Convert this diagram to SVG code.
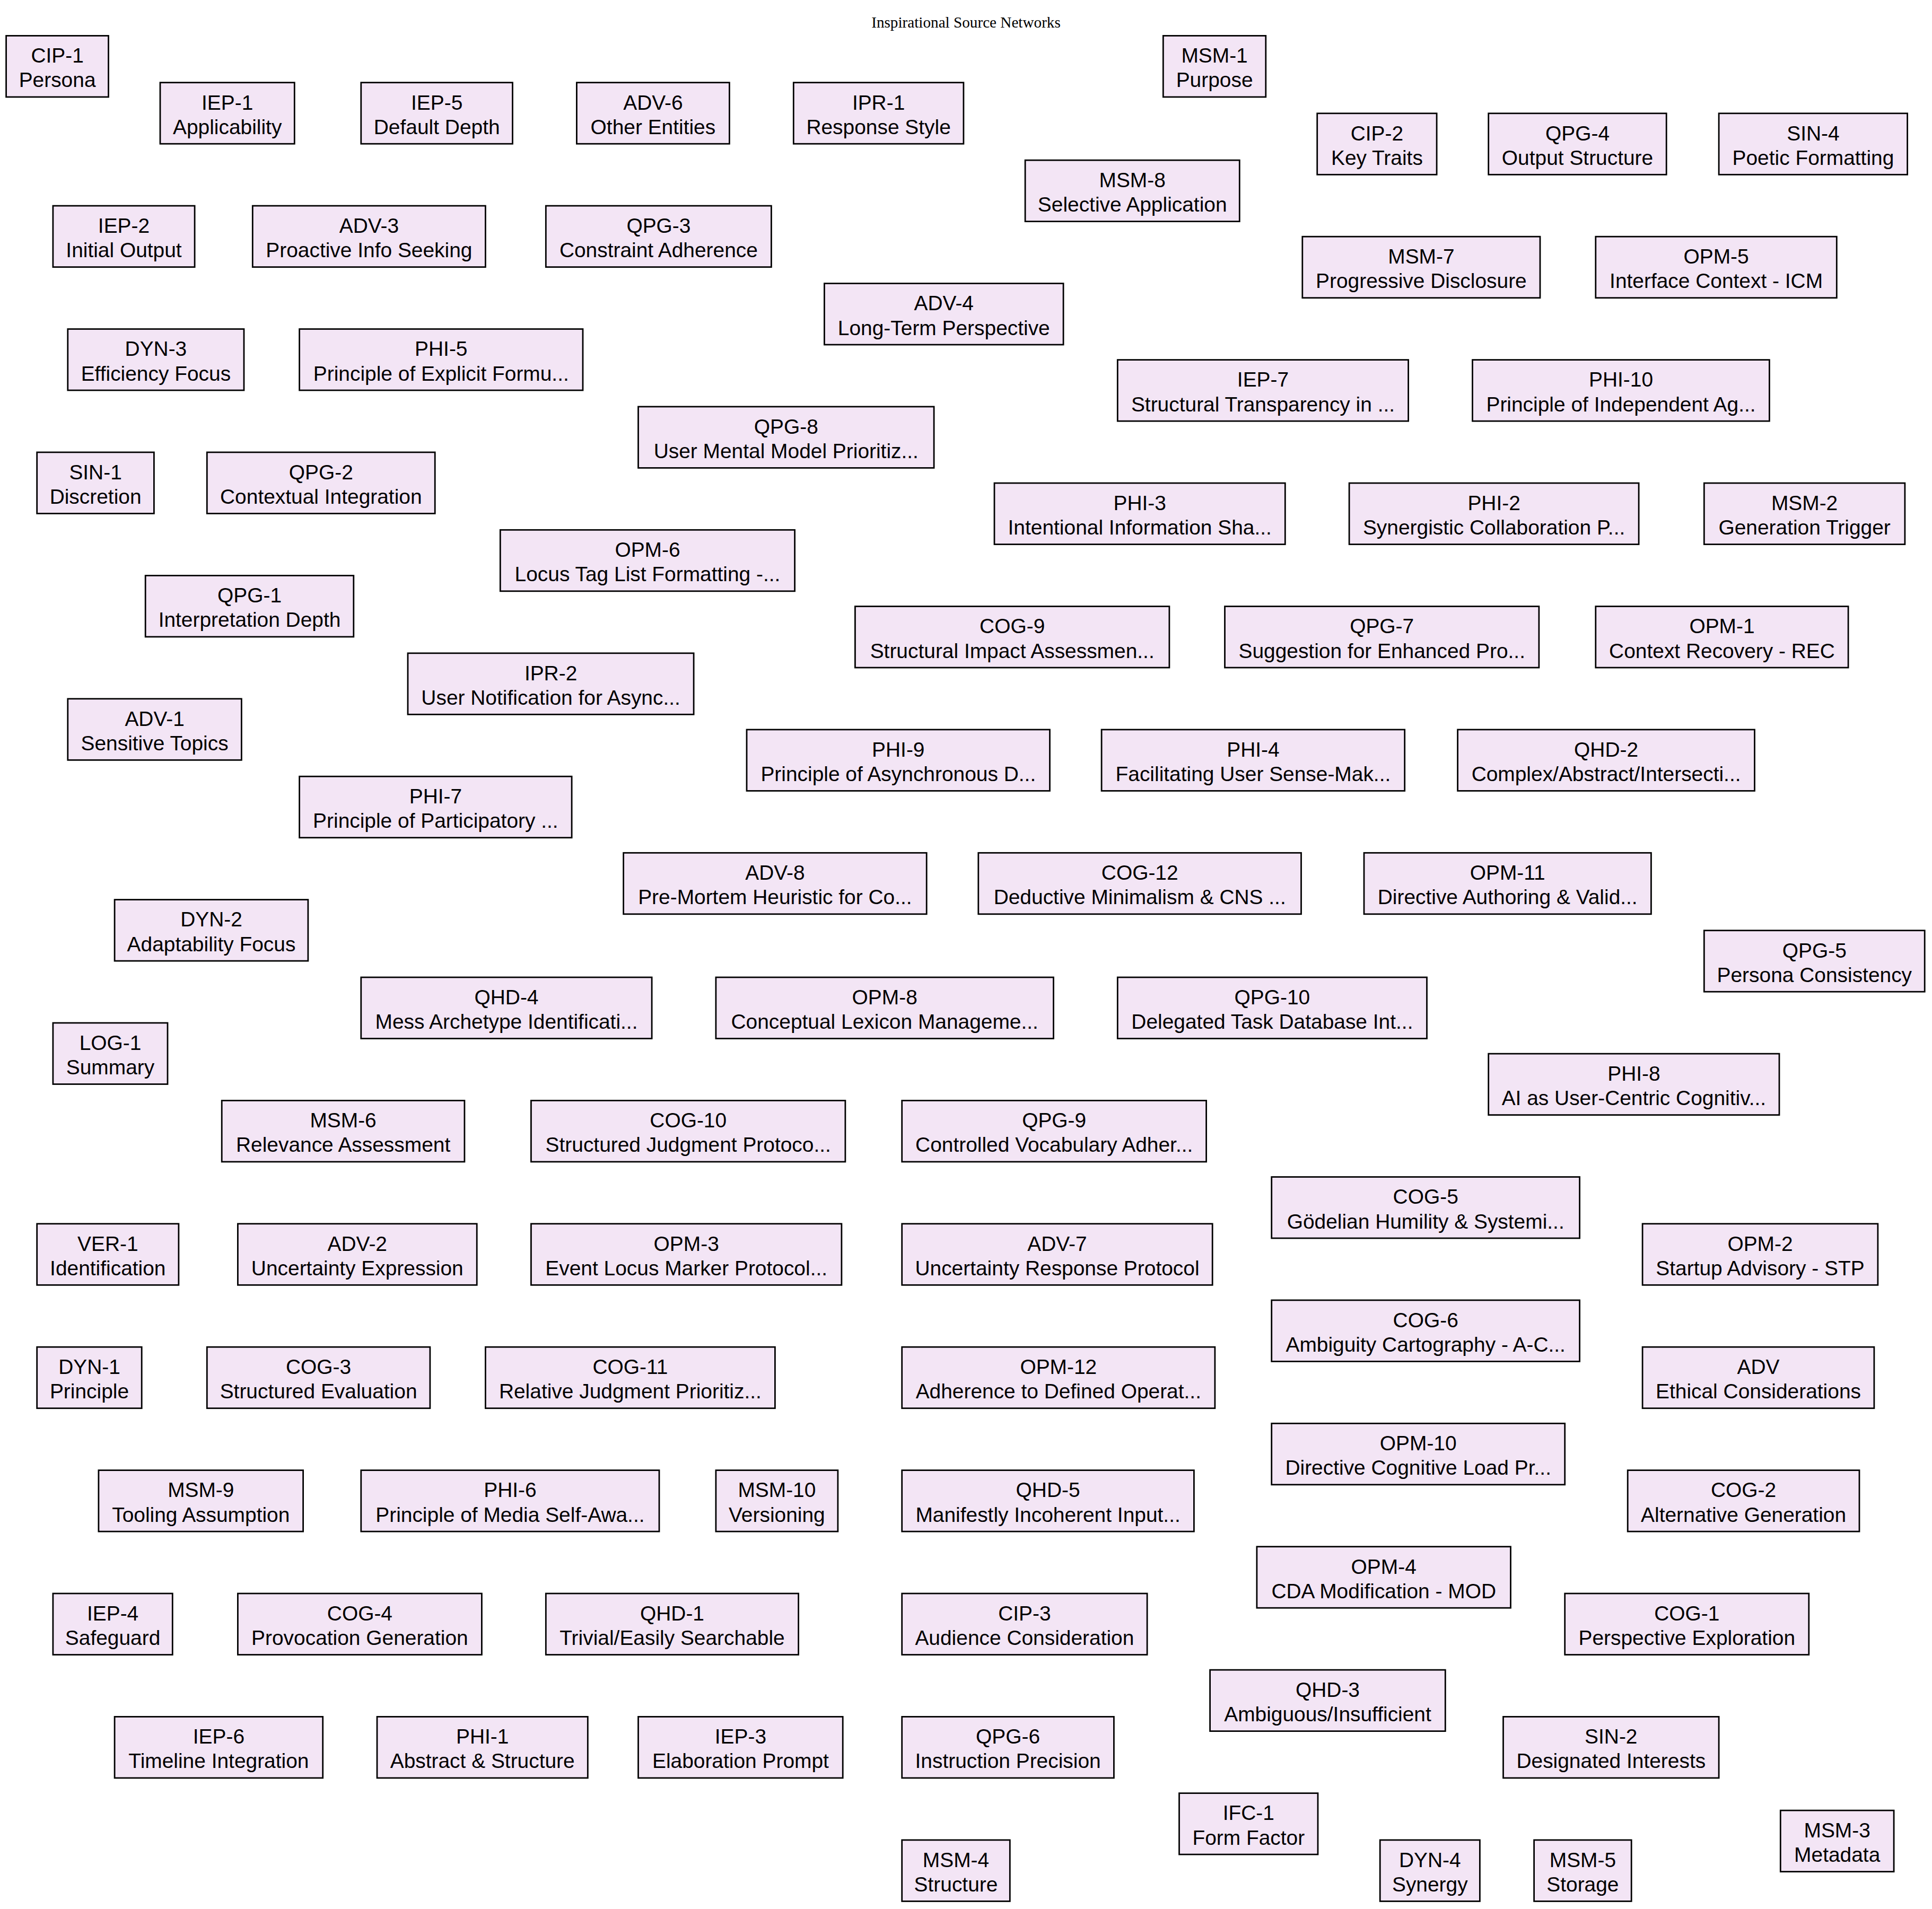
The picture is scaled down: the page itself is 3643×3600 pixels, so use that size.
<svg xmlns="http://www.w3.org/2000/svg" width="3643" height="3600" viewBox="0 0 3643 3600">
<style>
  .bg { fill: #ffffff; }
  .title { font-family: "Liberation Serif", "Times New Roman", serif; font-size: 29.2px; text-anchor: middle; fill: #000; }
  .node rect { fill: #f3e5f5; stroke: #000; stroke-width: 2.78; }
  .node text { font-family: "Liberation Sans", Arial, sans-serif; font-size: 38.9px; text-anchor: middle; fill: #000; }
</style>
<rect class="bg" x="0" y="0" width="3643" height="3600"/>
<text class="title" x="1821.5" y="51.5">Inspirational Source Networks</text>

<!-- no links between the sources -->
<g id="connectors"></g>

<g id="nodes">
<g id="node-CIP-1" class="node"><rect x="11.6" y="67.4" width="192.9" height="115.5"/><text x="108.1" y="118.2">CIP-1</text><text x="108.1" y="164.4">Persona</text></g>
<g id="node-IEP-1" class="node"><rect x="302.0" y="155.7" width="253.3" height="115.5"/><text x="428.7" y="206.5">IEP-1</text><text x="428.7" y="252.7">Applicability</text></g>
<g id="node-IEP-5" class="node"><rect x="680.8" y="155.7" width="285.7" height="115.5"/><text x="823.7" y="206.5">IEP-5</text><text x="823.7" y="252.7">Default Depth</text></g>
<g id="node-ADV-6" class="node"><rect x="1087.4" y="155.7" width="288.0" height="115.5"/><text x="1231.4" y="206.5">ADV-6</text><text x="1231.4" y="252.7">Other Entities</text></g>
<g id="node-IPR-1" class="node"><rect x="1496.3" y="155.7" width="320.6" height="115.5"/><text x="1656.6" y="206.5">IPR-1</text><text x="1656.6" y="252.7">Response Style</text></g>
<g id="node-MSM-1" class="node"><rect x="2193.3" y="67.4" width="193.5" height="115.5"/><text x="2290.1" y="118.2">MSM-1</text><text x="2290.1" y="164.4">Purpose</text></g>
<g id="node-CIP-2" class="node"><rect x="2483.7" y="213.8" width="225.4" height="115.5"/><text x="2596.4" y="264.6">CIP-2</text><text x="2596.4" y="310.8">Key Traits</text></g>
<g id="node-QPG-4" class="node"><rect x="2806.7" y="213.8" width="335.5" height="115.5"/><text x="2974.5" y="264.6">QPG-4</text><text x="2974.5" y="310.8">Output Structure</text></g>
<g id="node-SIN-4" class="node"><rect x="3241.1" y="213.8" width="355.5" height="115.5"/><text x="3418.9" y="264.6">SIN-4</text><text x="3418.9" y="310.8">Poetic Formatting</text></g>
<g id="node-MSM-8" class="node"><rect x="1933.1" y="302.1" width="404.2" height="115.5"/><text x="2135.2" y="352.9">MSM-8</text><text x="2135.2" y="399.1">Selective Application</text></g>
<g id="node-IEP-2" class="node"><rect x="99.9" y="388.1" width="267.2" height="115.5"/><text x="233.5" y="438.9">IEP-2</text><text x="233.5" y="485.1">Initial Output</text></g>
<g id="node-ADV-3" class="node"><rect x="476.3" y="388.1" width="439.1" height="115.5"/><text x="695.9" y="438.9">ADV-3</text><text x="695.9" y="485.1">Proactive Info Seeking</text></g>
<g id="node-QPG-3" class="node"><rect x="1029.3" y="388.1" width="425.1" height="115.5"/><text x="1241.9" y="438.9">QPG-3</text><text x="1241.9" y="485.1">Constraint Adherence</text></g>
<g id="node-MSM-7" class="node"><rect x="2455.8" y="446.2" width="448.2" height="115.5"/><text x="2679.9" y="497.0">MSM-7</text><text x="2679.9" y="543.2">Progressive Disclosure</text></g>
<g id="node-OPM-5" class="node"><rect x="3008.8" y="446.2" width="454.5" height="115.5"/><text x="3236.1" y="497.0">OPM-5</text><text x="3236.1" y="543.2">Interface Context - ICM</text></g>
<g id="node-ADV-4" class="node"><rect x="1554.4" y="534.5" width="450.7" height="115.5"/><text x="1779.8" y="585.3">ADV-4</text><text x="1779.8" y="631.5">Long-Term Perspective</text></g>
<g id="node-DYN-3" class="node"><rect x="127.8" y="620.5" width="332.2" height="115.5"/><text x="293.9" y="671.3">DYN-3</text><text x="293.9" y="717.5">Efficiency Focus</text></g>
<g id="node-PHI-5" class="node"><rect x="564.6" y="620.5" width="534.4" height="115.5"/><text x="831.8" y="671.3">PHI-5</text><text x="831.8" y="717.5">Principle of Explicit Formu...</text></g>
<g id="node-IEP-7" class="node"><rect x="2107.3" y="678.6" width="548.3" height="115.5"/><text x="2381.5" y="729.4">IEP-7</text><text x="2381.5" y="775.6">Structural Transparency in ...</text></g>
<g id="node-PHI-10" class="node"><rect x="2776.5" y="678.6" width="559.9" height="115.5"/><text x="3056.5" y="729.4">PHI-10</text><text x="3056.5" y="775.6">Principle of Independent Ag...</text></g>
<g id="node-QPG-8" class="node"><rect x="1203.5" y="766.9" width="557.6" height="115.5"/><text x="1482.3" y="817.7">QPG-8</text><text x="1482.3" y="863.9">User Mental Model Prioritiz...</text></g>
<g id="node-SIN-1" class="node"><rect x="69.7" y="852.9" width="220.7" height="115.5"/><text x="180.1" y="903.7">SIN-1</text><text x="180.1" y="949.9">Discretion</text></g>
<g id="node-QPG-2" class="node"><rect x="390.3" y="852.9" width="429.9" height="115.5"/><text x="605.3" y="903.7">QPG-2</text><text x="605.3" y="949.9">Contextual Integration</text></g>
<g id="node-PHI-3" class="node"><rect x="1875.0" y="911.0" width="548.3" height="115.5"/><text x="2149.2" y="961.8">PHI-3</text><text x="2149.2" y="1008.0">Intentional Information Sha...</text></g>
<g id="node-PHI-2" class="node"><rect x="2544.1" y="911.0" width="546.0" height="115.5"/><text x="2817.1" y="961.8">PHI-2</text><text x="2817.1" y="1008.0">Synergistic Collaboration P...</text></g>
<g id="node-MSM-2" class="node"><rect x="3213.3" y="911.0" width="378.6" height="115.5"/><text x="3402.6" y="961.8">MSM-2</text><text x="3402.6" y="1008.0">Generation Trigger</text></g>
<g id="node-OPM-6" class="node"><rect x="943.3" y="999.3" width="555.3" height="115.5"/><text x="1221.0" y="1050.1">OPM-6</text><text x="1221.0" y="1096.3">Locus Tag List Formatting -...</text></g>
<g id="node-QPG-1" class="node"><rect x="274.2" y="1085.4" width="392.6" height="115.5"/><text x="470.5" y="1136.2">QPG-1</text><text x="470.5" y="1182.4">Interpretation Depth</text></g>
<g id="node-COG-9" class="node"><rect x="1612.4" y="1143.5" width="592.5" height="115.5"/><text x="1908.7" y="1194.3">COG-9</text><text x="1908.7" y="1240.5">Structural Impact Assessmen...</text></g>
<g id="node-QPG-7" class="node"><rect x="2309.5" y="1143.5" width="592.4" height="115.5"/><text x="2605.7" y="1194.3">QPG-7</text><text x="2605.7" y="1240.5">Suggestion for Enhanced Pro...</text></g>
<g id="node-OPM-1" class="node"><rect x="3008.8" y="1143.5" width="476.3" height="115.5"/><text x="3247.0" y="1194.3">OPM-1</text><text x="3247.0" y="1240.5">Context Recovery - REC</text></g>
<g id="node-IPR-2" class="node"><rect x="769.0" y="1231.8" width="539.1" height="115.5"/><text x="1038.6" y="1282.6">IPR-2</text><text x="1038.6" y="1328.8">User Notification for Async...</text></g>
<g id="node-ADV-1" class="node"><rect x="127.8" y="1317.8" width="327.6" height="115.5"/><text x="291.6" y="1368.6">ADV-1</text><text x="291.6" y="1414.8">Sensitive Topics</text></g>
<g id="node-PHI-9" class="node"><rect x="1408.0" y="1375.9" width="571.5" height="115.5"/><text x="1693.8" y="1426.7">PHI-9</text><text x="1693.8" y="1472.9">Principle of Asynchronous D...</text></g>
<g id="node-PHI-4" class="node"><rect x="2077.1" y="1375.9" width="571.6" height="115.5"/><text x="2362.9" y="1426.7">PHI-4</text><text x="2362.9" y="1472.9">Facilitating User Sense-Mak...</text></g>
<g id="node-QHD-2" class="node"><rect x="2748.6" y="1375.9" width="559.9" height="115.5"/><text x="3028.6" y="1426.7">QHD-2</text><text x="3028.6" y="1472.9">Complex/Abstract/Intersecti...</text></g>
<g id="node-PHI-7" class="node"><rect x="564.6" y="1464.2" width="513.5" height="115.5"/><text x="821.4" y="1515.0">PHI-7</text><text x="821.4" y="1561.2">Principle of Participatory ...</text></g>
<g id="node-ADV-8" class="node"><rect x="1175.6" y="1608.3" width="571.6" height="115.5"/><text x="1461.4" y="1659.1">ADV-8</text><text x="1461.4" y="1705.3">Pre-Mortem Heuristic for Co...</text></g>
<g id="node-COG-12" class="node"><rect x="1844.8" y="1608.3" width="608.7" height="115.5"/><text x="2149.2" y="1659.1">COG-12</text><text x="2149.2" y="1705.3">Deductive Minimalism &amp; CNS ...</text></g>
<g id="node-OPM-11" class="node"><rect x="2572.0" y="1608.3" width="541.4" height="115.5"/><text x="2842.7" y="1659.1">OPM-11</text><text x="2842.7" y="1705.3">Directive Authoring &amp; Valid...</text></g>
<g id="node-DYN-2" class="node"><rect x="216.1" y="1696.6" width="364.8" height="115.5"/><text x="398.5" y="1747.4">DYN-2</text><text x="398.5" y="1793.6">Adaptability Focus</text></g>
<g id="node-QPG-5" class="node"><rect x="3213.3" y="1754.7" width="415.9" height="115.5"/><text x="3421.3" y="1805.5">QPG-5</text><text x="3421.3" y="1851.7">Persona Consistency</text></g>
<g id="node-QHD-4" class="node"><rect x="680.8" y="1843.0" width="548.3" height="115.5"/><text x="955.0" y="1893.8">QHD-4</text><text x="955.0" y="1940.0">Mess Archetype Identificati...</text></g>
<g id="node-OPM-8" class="node"><rect x="1349.9" y="1843.0" width="636.6" height="115.5"/><text x="1668.2" y="1893.8">OPM-8</text><text x="1668.2" y="1940.0">Conceptual Lexicon Manageme...</text></g>
<g id="node-QPG-10" class="node"><rect x="2107.3" y="1843.0" width="583.2" height="115.5"/><text x="2398.9" y="1893.8">QPG-10</text><text x="2398.9" y="1940.0">Delegated Task Database Int...</text></g>
<g id="node-LOG-1" class="node"><rect x="99.9" y="1929.0" width="216.1" height="115.5"/><text x="208.0" y="1979.8">LOG-1</text><text x="208.0" y="2026.0">Summary</text></g>
<g id="node-PHI-8" class="node"><rect x="2806.7" y="1987.1" width="548.3" height="115.5"/><text x="3080.9" y="2037.9">PHI-8</text><text x="3080.9" y="2084.1">AI as User-Centric Cognitiv...</text></g>
<g id="node-MSM-6" class="node"><rect x="418.2" y="2075.4" width="457.7" height="115.5"/><text x="647.1" y="2126.2">MSM-6</text><text x="647.1" y="2172.4">Relevance Assessment</text></g>
<g id="node-COG-10" class="node"><rect x="1001.4" y="2075.4" width="592.5" height="115.5"/><text x="1297.7" y="2126.2">COG-10</text><text x="1297.7" y="2172.4">Structured Judgment Protoco...</text></g>
<g id="node-QPG-9" class="node"><rect x="1700.7" y="2075.4" width="573.9" height="115.5"/><text x="1987.7" y="2126.2">QPG-9</text><text x="1987.7" y="2172.4">Controlled Vocabulary Adher...</text></g>
<g id="node-COG-5" class="node"><rect x="2397.7" y="2219.5" width="580.9" height="115.5"/><text x="2688.2" y="2270.3">COG-5</text><text x="2688.2" y="2316.5">Gödelian Humility &amp; Systemi...</text></g>
<g id="node-VER-1" class="node"><rect x="69.7" y="2307.8" width="267.2" height="115.5"/><text x="203.3" y="2358.6">VER-1</text><text x="203.3" y="2404.8">Identification</text></g>
<g id="node-ADV-2" class="node"><rect x="448.4" y="2307.8" width="450.8" height="115.5"/><text x="673.8" y="2358.6">ADV-2</text><text x="673.8" y="2404.8">Uncertainty Expression</text></g>
<g id="node-OPM-3" class="node"><rect x="1001.4" y="2307.8" width="585.5" height="115.5"/><text x="1294.2" y="2358.6">OPM-3</text><text x="1294.2" y="2404.8">Event Locus Marker Protocol...</text></g>
<g id="node-ADV-7" class="node"><rect x="1700.7" y="2307.8" width="585.5" height="115.5"/><text x="1993.5" y="2358.6">ADV-7</text><text x="1993.5" y="2404.8">Uncertainty Response Protocol</text></g>
<g id="node-OPM-2" class="node"><rect x="3097.1" y="2307.8" width="443.8" height="115.5"/><text x="3319.0" y="2358.6">OPM-2</text><text x="3319.0" y="2404.8">Startup Advisory - STP</text></g>
<g id="node-COG-6" class="node"><rect x="2397.7" y="2451.9" width="580.9" height="115.5"/><text x="2688.2" y="2502.7">COG-6</text><text x="2688.2" y="2548.9">Ambiguity Cartography - A-C...</text></g>
<g id="node-DYN-1" class="node"><rect x="69.7" y="2540.2" width="197.5" height="115.5"/><text x="168.5" y="2591.0">DYN-1</text><text x="168.5" y="2637.2">Principle</text></g>
<g id="node-COG-3" class="node"><rect x="390.3" y="2540.2" width="420.6" height="115.5"/><text x="600.6" y="2591.0">COG-3</text><text x="600.6" y="2637.2">Structured Evaluation</text></g>
<g id="node-COG-11" class="node"><rect x="915.4" y="2540.2" width="546.0" height="115.5"/><text x="1188.4" y="2591.0">COG-11</text><text x="1188.4" y="2637.2">Relative Judgment Prioritiz...</text></g>
<g id="node-OPM-12" class="node"><rect x="1700.7" y="2540.2" width="590.2" height="115.5"/><text x="1995.8" y="2591.0">OPM-12</text><text x="1995.8" y="2637.2">Adherence to Defined Operat...</text></g>
<g id="node-ADV" class="node"><rect x="3097.1" y="2540.2" width="436.8" height="115.5"/><text x="3315.5" y="2591.0">ADV</text><text x="3315.5" y="2637.2">Ethical Considerations</text></g>
<g id="node-OPM-10" class="node"><rect x="2397.7" y="2684.3" width="553.0" height="115.5"/><text x="2674.2" y="2735.1">OPM-10</text><text x="2674.2" y="2781.3">Directive Cognitive Load Pr...</text></g>
<g id="node-MSM-9" class="node"><rect x="185.9" y="2772.6" width="385.7" height="115.5"/><text x="378.8" y="2823.4">MSM-9</text><text x="378.8" y="2869.6">Tooling Assumption</text></g>
<g id="node-PHI-6" class="node"><rect x="680.8" y="2772.6" width="562.2" height="115.5"/><text x="961.9" y="2823.4">PHI-6</text><text x="961.9" y="2869.6">Principle of Media Self-Awa...</text></g>
<g id="node-MSM-10" class="node"><rect x="1349.9" y="2772.6" width="230.0" height="115.5"/><text x="1464.9" y="2823.4">MSM-10</text><text x="1464.9" y="2869.6">Versioning</text></g>
<g id="node-QHD-5" class="node"><rect x="1700.7" y="2772.6" width="550.7" height="115.5"/><text x="1976.1" y="2823.4">QHD-5</text><text x="1976.1" y="2869.6">Manifestly Incoherent Input...</text></g>
<g id="node-COG-2" class="node"><rect x="3069.2" y="2772.6" width="436.8" height="115.5"/><text x="3287.6" y="2823.4">COG-2</text><text x="3287.6" y="2869.6">Alternative Generation</text></g>
<g id="node-OPM-4" class="node"><rect x="2369.9" y="2916.7" width="478.6" height="115.5"/><text x="2609.2" y="2967.5">OPM-4</text><text x="2609.2" y="3013.7">CDA Modification - MOD</text></g>
<g id="node-IEP-4" class="node"><rect x="99.9" y="3005.0" width="225.4" height="115.5"/><text x="212.6" y="3055.8">IEP-4</text><text x="212.6" y="3102.0">Safeguard</text></g>
<g id="node-COG-4" class="node"><rect x="448.4" y="3005.0" width="460.0" height="115.5"/><text x="678.4" y="3055.8">COG-4</text><text x="678.4" y="3102.0">Provocation Generation</text></g>
<g id="node-QHD-1" class="node"><rect x="1029.3" y="3005.0" width="476.3" height="115.5"/><text x="1267.5" y="3055.8">QHD-1</text><text x="1267.5" y="3102.0">Trivial/Easily Searchable</text></g>
<g id="node-CIP-3" class="node"><rect x="1700.7" y="3005.0" width="462.4" height="115.5"/><text x="1931.9" y="3055.8">CIP-3</text><text x="1931.9" y="3102.0">Audience Consideration</text></g>
<g id="node-COG-1" class="node"><rect x="2950.7" y="3005.0" width="460.1" height="115.5"/><text x="3180.8" y="3055.8">COG-1</text><text x="3180.8" y="3102.0">Perspective Exploration</text></g>
<g id="node-QHD-3" class="node"><rect x="2281.6" y="3149.1" width="443.7" height="115.5"/><text x="2503.5" y="3199.9">QHD-3</text><text x="2503.5" y="3246.1">Ambiguous/Insufficient</text></g>
<g id="node-IEP-6" class="node"><rect x="216.1" y="3237.4" width="392.6" height="115.5"/><text x="412.4" y="3288.2">IEP-6</text><text x="412.4" y="3334.4">Timeline Integration</text></g>
<g id="node-PHI-1" class="node"><rect x="711.0" y="3237.4" width="397.3" height="115.5"/><text x="909.7" y="3288.2">PHI-1</text><text x="909.7" y="3334.4">Abstract &amp; Structure</text></g>
<g id="node-IEP-3" class="node"><rect x="1203.5" y="3237.4" width="385.7" height="115.5"/><text x="1396.4" y="3288.2">IEP-3</text><text x="1396.4" y="3334.4">Elaboration Prompt</text></g>
<g id="node-QPG-6" class="node"><rect x="1700.7" y="3237.4" width="399.7" height="115.5"/><text x="1900.6" y="3288.2">QPG-6</text><text x="1900.6" y="3334.4">Instruction Precision</text></g>
<g id="node-SIN-2" class="node"><rect x="2834.5" y="3237.4" width="406.6" height="115.5"/><text x="3037.8" y="3288.2">SIN-2</text><text x="3037.8" y="3334.4">Designated Interests</text></g>
<g id="node-IFC-1" class="node"><rect x="2223.5" y="3381.6" width="261.5" height="115.5"/><text x="2354.3" y="3432.4">IFC-1</text><text x="2354.3" y="3478.6">Form Factor</text></g>
<g id="node-MSM-4" class="node"><rect x="1700.7" y="3469.9" width="203.6" height="115.5"/><text x="1802.5" y="3520.7">MSM-4</text><text x="1802.5" y="3566.9">Structure</text></g>
<g id="node-DYN-4" class="node"><rect x="2602.2" y="3469.9" width="188.2" height="115.5"/><text x="2696.3" y="3520.7">DYN-4</text><text x="2696.3" y="3566.9">Synergy</text></g>
<g id="node-MSM-5" class="node"><rect x="2892.6" y="3469.9" width="183.6" height="115.5"/><text x="2984.4" y="3520.7">MSM-5</text><text x="2984.4" y="3566.9">Storage</text></g>
<g id="node-MSM-3" class="node"><rect x="3357.3" y="3414.1" width="213.8" height="115.5"/><text x="3464.2" y="3464.9">MSM-3</text><text x="3464.2" y="3511.1">Metadata</text></g>
</g>
</svg>
